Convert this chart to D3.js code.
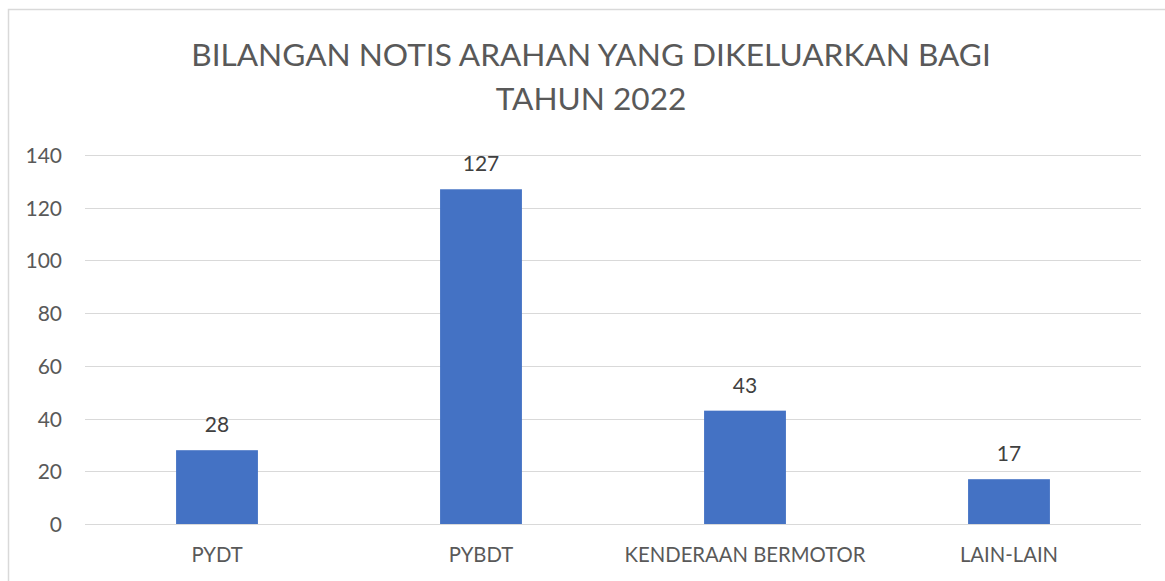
<!DOCTYPE html>
<html><head><meta charset="utf-8">
<script src="https://cdn.jsdelivr.net/npm/d3@7"></script>
<style>
html,body{margin:0;padding:0;background:#fff;}
svg{display:block;font-family:Lato,"Open Sans",sans-serif;}
</style></head>
<body>
<svg id="chart" width="1165" height="581"></svg>
<script>
const categories = ["PYDT", "PYBDT", "KENDERAAN BERMOTOR", "LAIN-LAIN"];
const values = [28, 127, 43, 17];
const yTicks = [0, 20, 40, 60, 80, 100, 120, 140];
const titleLines = ["BILANGAN NOTIS ARAHAN YANG DIKELUARKAN BAGI", "TAHUN 2022"];

const svg = d3.select("#chart");
const W = 1165, H = 581;
const m = {left: 85, right: 24, top: 155, bottom: 57};

// chart border
svg.append("rect").attr("x", 8.5).attr("y", 9.5).attr("width", W + 10).attr("height", H + 10)
  .attr("fill", "none").attr("stroke", "#d9d9d9").attr("stroke-width", 1.5);

const x = d3.scaleBand().domain(categories).range([m.left, W - m.right]).padding(0);
const y = d3.scaleLinear().domain([0, 140]).range([H - m.bottom, m.top]);

// gridlines
svg.append("g").selectAll("line").data(yTicks).join("line")
  .attr("x1", m.left).attr("x2", W - m.right)
  .attr("y1", d => Math.round(y(d)) + 0.5).attr("y2", d => Math.round(y(d)) + 0.5)
  .attr("stroke", "#d9d9d9").attr("stroke-width", 1.2);

// y axis labels
const yAxis = d3.axisLeft(y).tickValues(yTicks).tickSize(0).tickPadding(0);
const gy = svg.append("g").attr("transform", `translate(62,0)`).call(yAxis);
gy.select(".domain").remove();
gy.selectAll("text").attr("font-family", "Lato, sans-serif").attr("font-size", 21)
  .attr("fill", "#595959").attr("dy", "0.36em");

// x axis labels
const xAxis = d3.axisBottom(x).tickSize(0).tickPadding(0);
const gx = svg.append("g").attr("transform", `translate(0,${H - m.bottom})`).call(xAxis);
gx.select(".domain").remove();
gx.selectAll("text").attr("font-family", "Lato, sans-serif").attr("font-size", 20.3)
  .attr("fill", "#595959").attr("dy", null).attr("y", 38);

// bars
const bw = x.bandwidth() * 0.31;
svg.append("g").selectAll("rect").data(categories).join("rect")
  .attr("x", d => x(d) + x.bandwidth() / 2 - bw / 2)
  .attr("width", bw)
  .attr("y", (d, i) => y(values[i]))
  .attr("height", (d, i) => y(0) - y(values[i]))
  .attr("fill", "#4472c4");

// data labels
svg.append("g").selectAll("text").data(categories).join("text")
  .attr("x", d => x(d) + x.bandwidth() / 2)
  .attr("y", (d, i) => y(values[i]) - 18)
  .attr("text-anchor", "middle")
  .attr("font-size", 21).attr("fill", "#404040")
  .text((d, i) => values[i]);

// title
svg.append("g").selectAll("text").data(titleLines).join("text")
  .attr("x", 591).attr("y", (d, i) => 66 + i * 44)
  .attr("text-anchor", "middle")
  .attr("font-size", 31.6).attr("fill", "#595959")
  .text(d => d);
</script>
</body></html>
